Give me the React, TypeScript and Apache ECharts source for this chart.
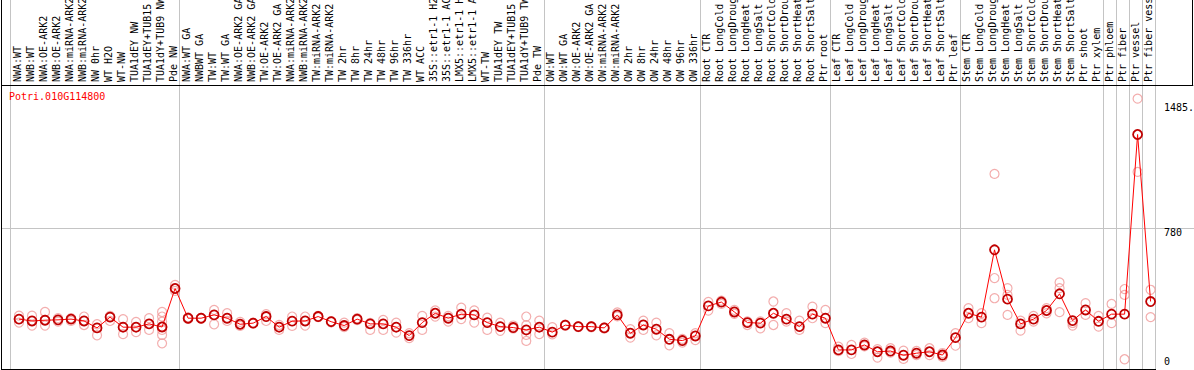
import React, { useEffect, useRef } from 'react';
import * as echarts from 'echarts';

const TITLE = 'Potri.010G114800';

const categories: string[] = [
  'NWA:WT', 'NWB:WT', 'NWA:OE-ARK2', 'NWB:OE-ARK2', 'NWA:miRNA-ARK2', 'NWB:miRNA-ARK2', 'NW 0hr', 'WT H2O', 'WT-NW',
  'TUA1dEY NW', 'TUA1dEY+TUB15', 'TUA1dY+TUB9 NW', 'Pde NW',
  'NWA:WT GA', 'NWBWT GA', 'TW:WT', 'TW:WT GA', 'NWA:OE-ARK2 GA', 'NWB:OE-ARK2 GA', 'TW:OE-ARK2', 'TW:OE-ARK2 GA',
  'NWA:miRNA-ARK2', 'NWB:miRNA-ARK2', 'TW:miRNA-ARK2', 'TW:miRNA-ARK2', 'TW 2hr', 'TW 8hr', 'TW 24hr', 'TW 48hr',
  'TW 96hr', 'TW 336hr', 'WT ACC', '35S::etr1-1 H2', '35S::etr1-1 AC', 'LMX5::etr1-1 H', 'LMX5::etr1-1 A', 'WT-TW',
  'TUA1dEY TW', 'TUA1dEY+TUB15', 'TUA1dY+TUB9 TW', 'Pde TW',
  'OW:WT', 'OW:WT GA', 'OW:OE-ARK2', 'OW:OE-ARK2 GA', 'OW:miRNA-ARK2', 'OW:miRNA-ARK2', 'OW 2hr', 'OW 8hr', 'OW 24hr',
  'OW 48hr', 'OW 96hr', 'OW 336hr',
  'Root CTR', 'Root LongCold', 'Root LongDroug', 'Root LongHeat', 'Root LongSalt', 'Root ShortCold', 'Root ShortDrou',
  'Root ShortHeat', 'Root ShortSalt', 'Ptr root',
  'Leaf CTR', 'Leaf LongCold', 'Leaf LongDroug', 'Leaf LongHeat', 'Leaf LongSalt', 'Leaf ShortCold', 'Leaf ShortDrou',
  'Leaf ShortHeat', 'Leaf ShortSalt', 'Ptr leaf',
  'Stem CTR', 'Stem LongCold', 'Stem LongDroug', 'Stem LongHeat', 'Stem LongSalt', 'Stem ShortCold', 'Stem ShortDrou',
  'Stem ShortHeat', 'Stem ShortSalt', 'Ptr shoot', 'Ptr xylem',
  'Ptr phloem', 'Ptr fiber', 'Ptr vessel', 'Ptr fiber vess',
];

const means: number[] = [
  283, 273, 277, 279, 283, 273, 235, 294, 239, 239, 257, 240, 450,
  288, 288, 306, 288, 255, 261, 297, 239, 272, 273, 297, 269, 248, 283, 257, 257, 239, 193, 264, 315, 288, 310, 306,
  264, 242, 237, 224, 239,
  212, 250, 242, 242, 235, 306, 206, 251, 228, 173, 166, 191,
  355, 376, 322, 264, 261, 315, 283, 242, 310, 288,
  115, 115, 142, 105, 109, 86, 97, 105, 87, 182,
  315, 294, 661, 392, 257, 283, 330, 421, 275, 333, 271,
  310, 310, 1290, 379,
];

const replicates: number[][] = [
  [302, 264], [302, 248], [322, 279, 248], [288, 269], [288, 273], [297, 251], [255, 195], [301, 273], [283, 201],
  [268, 212], [288, 224], [322, 297, 269, 224, 197, 151], [470, 437],
  [292, 284], [290, 286], [333, 255], [315, 273], [268, 246], [258, 264], [310, 273], [251, 224], [297, 246],
  [297, 248], [300, 294], [272, 266], [264, 240], [288, 278], [224, 262], [279, 224], [264, 209], [206, 179],
  [301, 224], [330, 297], [269, 300], [346, 283], [330, 264], [291, 224], [264, 219], [248, 232],
  [297, 250, 197, 164], [275, 201],
  [239, 200], [253, 247], [245, 240], [245, 238], [232, 238], [319, 298], [228, 182], [275, 224], [264, 195],
  [206, 140], [155, 175], [206, 169],
  [377, 330], [384, 366], [333, 312], [251, 270], [233, 270], [379, 251], [315, 270], [275, 224], [351, 288], [333, 261],
  [133, 108], [142, 93], [155, 135], [119, 73], [124, 100], [111, 66], [87, 109], [124, 87], [98, 77], [206, 138],
  [343, 288], [315, 261], [1075, 507, 397], [452, 415, 306], [275, 220], [301, 269], [343, 315], [483, 452, 321],
  [248, 262], [370, 306], [301, 242],
  [366, 261], [447, 415, 64], [1485.5, 1086], [443, 294],
];

// first category index of each boxed group
const groupStarts: number[] = [0, 13, 41, 53, 63, 73, 84, 85, 86, 87];

const Y_MAX = 1560;
const Y_MID = 780;
const yTickLabels: string[] = ['1485.', '780', '0'];
const yTickLabelY = [107, 232, 361];

export default function App() {
  const ref = useRef<HTMLDivElement>(null);

  useEffect(() => {
    if (!ref.current) return;
    const chart = echarts.init(ref.current, null, { renderer: 'svg' });
    const font = 'DejaVu Sans Mono';
    const repData: [number, number][] = [];
    replicates.forEach((vals, i) => vals.forEach((v) => repData.push([i, v])));

    const bandLeft = 10.5;
    const plotW = 1144.6;
    const black = { stroke: '#000', lineWidth: 1 };

    const option: any = {
      animation: false,
      backgroundColor: '#fff',
      title: {
        text: TITLE,
        left: 9,
        top: 91,
        padding: 0,
        textStyle: { color: '#ff0000', fontFamily: font, fontSize: 10, fontWeight: 'normal' },
      },
      grid: [
        { left: bandLeft, top: 0, width: plotW, height: 369, outerBoundsMode: 'none' },
        { left: bandLeft, top: 0, width: plotW, height: 85, outerBoundsMode: 'none' },
        { left: bandLeft + 2, top: 85, width: plotW, height: 286, outerBoundsMode: 'none' },
        { left: 1, top: 85, width: 1193, height: 286, outerBoundsMode: 'none' },
      ],
      xAxis: [
        {
          gridIndex: 0, type: 'category', data: categories, boundaryGap: true,
          axisLine: { show: false }, axisTick: { show: false }, axisLabel: { show: false },
          splitLine: {
            show: true,
            interval: (i: number) => groupStarts.includes(i),
            lineStyle: { color: '#c4c4c4', width: 1 },
          },
        },
        {
          gridIndex: 1, type: 'category', data: categories, position: 'bottom', boundaryGap: true,
          axisLine: { show: false }, axisTick: { show: false }, splitLine: { show: false },
          axisLabel: {
            inside: true, rotate: 90, interval: 0, margin: 3, hideOverlap: false,
            fontFamily: font, fontSize: 10, color: '#000',
          },
        },
        { gridIndex: 2, type: 'category', data: categories, boundaryGap: true, show: false },
        { gridIndex: 3, type: 'value', min: 0, max: 1, show: false },
      ],
      yAxis: [
        { gridIndex: 0, type: 'value', min: 0, max: 1, show: false },
        { gridIndex: 1, type: 'value', min: 0, max: 1, show: false },
        { gridIndex: 2, type: 'value', min: 0, max: Y_MAX, show: false },
        {
          gridIndex: 3, type: 'value', min: 0, max: Y_MAX, interval: Y_MID,
          axisLine: { show: false }, axisTick: { show: false }, axisLabel: { show: false },
          splitLine: { show: true, lineStyle: { color: '#c4c4c4', width: 1 } },
        },
      ],
      series: [
        {
          type: 'scatter', xAxisIndex: 2, yAxisIndex: 2, data: repData, symbol: 'circle', symbolSize: 9,
          itemStyle: { color: 'rgba(0,0,0,0)', borderColor: '#f09a9a', borderWidth: 1.2 },
          z: 2, silent: true,
        },
        {
          type: 'line', xAxisIndex: 2, yAxisIndex: 2, data: means, symbol: 'circle', symbolSize: 9,
          showAllSymbol: true,
          lineStyle: { color: '#ff0000', width: 1 },
          itemStyle: { color: 'rgba(0,0,0,0)', borderColor: '#c00000', borderWidth: 1.8 },
          z: 3, silent: true,
        },
      ],
      graphic: [
        { type: 'line', z: 100, shape: { x1: 1.5, y1: 0, x2: 1.5, y2: 369.5 }, style: black },
        { type: 'line', z: 100, shape: { x1: 1, y1: 369.5, x2: 1156, y2: 369.5 }, style: black },
        { type: 'line', z: 100, shape: { x1: 1, y1: 85.5, x2: 1193, y2: 85.5 }, style: black },
        { type: 'line', z: 100, shape: { x1: 1192.5, y1: 0, x2: 1192.5, y2: 85.5 }, style: black },
        ...yTickLabels.map((t, i) => ({
          type: 'text', z: 100, x: 1164, y: yTickLabelY[i],
          style: { text: t, fill: '#000', font: `10px "${font}"`, verticalAlign: 'middle', align: 'left' },
        })),
      ],
    };
    chart.setOption(option);
    return () => chart.dispose();
  }, []);

  return (
    <div
      ref={ref}
      style={{ position: 'fixed', left: 0, top: 0, width: 1194, height: 370 }}
    />
  );
}
